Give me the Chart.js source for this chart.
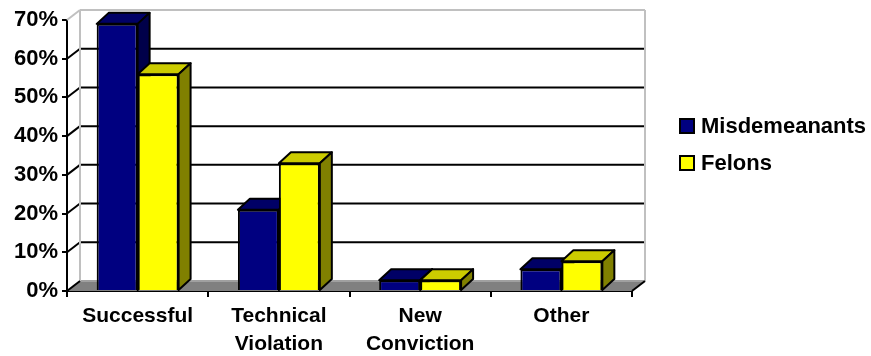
<!DOCTYPE html>
<html>
<head>
<meta charset="utf-8">
<script src="https://cdn.jsdelivr.net/npm/chart.js@4/dist/chart.umd.min.js"></script>
<style>
	html, body { margin: 0; padding: 0; background: #fff; }
	#wrap { width: 871px; height: 356px; position: relative; }
</style>
</head>
<body>
<div id="wrap"><canvas id="myChart"></canvas></div>
<script>
// data
const categories = ['Successful', ['Technical', 'Violation'], ['New', 'Conviction'], 'Other']
const seriesNames = ['Misdemeanants', 'Felons']
const misdemeanants = [69, 21, 2.8, 5.6]
const felons = [56, 33, 2.8, 7.7]
const yMax = 70
const yStep = 10

// depth of the 3d box
const DX = 13, DY = -10
const BDX = 12, BDY = -11

const faces = [
	{ front: '#000080', top: '#000066', side: '#00004a' },
	{ front: '#ffff00', top: '#cccc00', side: '#808000' }
]

Chart.defaults.font.family = "'Liberation Sans', Arial, sans-serif"
Chart.defaults.font.weight = 'bold'
Chart.defaults.color = '#000'

let poly = (ctx, pts, fill, stroke, lw) => {
	ctx.beginPath()
	ctx.moveTo(pts[0][0], pts[0][1])
	for (let i = 1; i < pts.length; i++) ctx.lineTo(pts[i][0], pts[i][1])
	ctx.closePath()
	if (fill) { ctx.fillStyle = fill; ctx.fill() }
	if (stroke) { ctx.strokeStyle = stroke; ctx.lineWidth = lw || 2; ctx.stroke() }
}
let line = (ctx, x1, y1, x2, y2, color, lw) => {
	ctx.beginPath()
	ctx.moveTo(x1, y1)
	ctx.lineTo(x2, y2)
	ctx.strokeStyle = color
	ctx.lineWidth = lw || 2
	ctx.stroke()
}

// walls, floor, gridlines and the top/side faces of the bars
const box3d = {
	id: 'box3d',
	beforeDatasetsDraw: chart => {
		const ctx = chart.ctx
		const a = chart.chartArea
		const ys = chart.scales.y
		ctx.save()
		ctx.lineJoin = 'round'
		// floor
		poly(ctx, [[a.left, a.bottom], [a.right, a.bottom], [a.right + DX, a.bottom + DY], [a.left + DX, a.bottom + DY]], '#808080', null)
		line(ctx, a.left + DX, a.bottom + DY, a.right + DX, a.bottom + DY, '#a0a0a0', 2)
		// back wall gridlines + connectors on the side wall
		ys.ticks.forEach(t => {
			const y = ys.getPixelForValue(t.value)
			if (t.value === 0 || t.value === yMax) return
			line(ctx, a.left + DX, y + DY, a.right + DX, y + DY, '#000', 2)
			line(ctx, a.left, y, a.left + DX, y + DY, '#000', 2)
		})
		// wall edges
		line(ctx, a.left + DX, a.top + DY, a.left + DX, a.bottom + DY, '#c0c0c0', 2)
		line(ctx, a.left, a.top, a.left + DX, a.top + DY, '#c0c0c0', 2)
		line(ctx, a.left + DX, a.top + DY, a.right + DX, a.top + DY, '#c0c0c0', 2)
		line(ctx, a.right + DX, a.top + DY, a.right + DX, a.bottom + DY, '#c0c0c0', 2)
		line(ctx, a.left, a.bottom, a.left + DX, a.bottom + DY, '#000', 2)
		line(ctx, a.right, a.bottom, a.right + DX, a.bottom + DY, '#000', 2)
		// tops and sides, category by category
		const metas = chart.data.datasets.map((d, i) => chart.getDatasetMeta(i))
		categories.forEach((c, j) => {
			metas.forEach((m, i) => {
				const p = m.data[j].getProps(['x', 'y', 'base', 'width'], true)
				const L = p.x - p.width / 2, R = p.x + p.width / 2, T = p.y, B = p.base
				poly(ctx, [[L, T], [R, T], [R + BDX, T + BDY], [L + BDX, T + BDY]], faces[i].top, '#000', 2)
				poly(ctx, [[R, T], [R + BDX, T + BDY], [R + BDX, B + BDY], [R, B]], faces[i].side, '#000', 2)
			})
		})
		ctx.restore()
	}
}

// legend drawn by hand so it sits where the original one is
const sideLegend = {
	id: 'sideLegend',
	afterDraw: chart => {
		const ctx = chart.ctx
		ctx.save()
		chart.data.datasets.forEach((d, i) => {
			const y = 119 + i * 37
			ctx.fillStyle = d.backgroundColor
			ctx.fillRect(680, y, 14, 14)
			ctx.strokeStyle = '#000'
			ctx.lineWidth = 2
			ctx.strokeRect(680, y, 14, 14)
			ctx.fillStyle = '#000'
			ctx.font = "bold 22px 'Liberation Sans', Arial, sans-serif"
			ctx.textBaseline = 'middle'
			ctx.textAlign = 'left'
			ctx.fillText(d.label, 701, y + 8)
		})
		ctx.restore()
	}
}

new Chart(document.getElementById('myChart'), {
	type: 'bar',
	data: {
		labels: categories,
		datasets: [{
			label: seriesNames[0],
			data: misdemeanants,
			backgroundColor: faces[0].front,
			borderColor: '#000',
			borderWidth: 2,
			categoryPercentage: 0.58,
			barPercentage: 1
		}, {
			label: seriesNames[1],
			data: felons,
			backgroundColor: faces[1].front,
			borderColor: '#000',
			borderWidth: 2,
			categoryPercentage: 0.58,
			barPercentage: 1
		}]
	},
	options: {
		responsive: true,
		maintainAspectRatio: false,
		animation: false,
		layout: { padding: { left: 0, right: 239, top: 20, bottom: 0 } },
		plugins: {
			legend: { display: false },
			tooltip: { enabled: false }
		},
		scales: {
			x: {
				grid: { display: true, offset: true, drawOnChartArea: false, drawTicks: true, tickLength: 6, color: '#000', lineWidth: 2 },
				border: { display: true, color: '#000', width: 2 },
				ticks: { font: { size: 21, weight: 'bold', lineHeight: 1.35 }, padding: 5, maxRotation: 0, autoSkip: false },
				afterFit: s => { s.height = 65 }
			},
			y: {
				min: 0,
				max: yMax,
				grid: { display: true, drawOnChartArea: false, drawTicks: true, tickLength: 5, color: '#000', lineWidth: 2 },
				border: { display: true, color: '#000', width: 2 },
				ticks: { stepSize: yStep, padding: 4, font: { size: 22, weight: 'bold' }, callback: v => v + '%' },
				afterFit: s => { s.width = 67 }
			}
		}
	},
	plugins: [box3d, sideLegend]
})
</script>
</body>
</html>
